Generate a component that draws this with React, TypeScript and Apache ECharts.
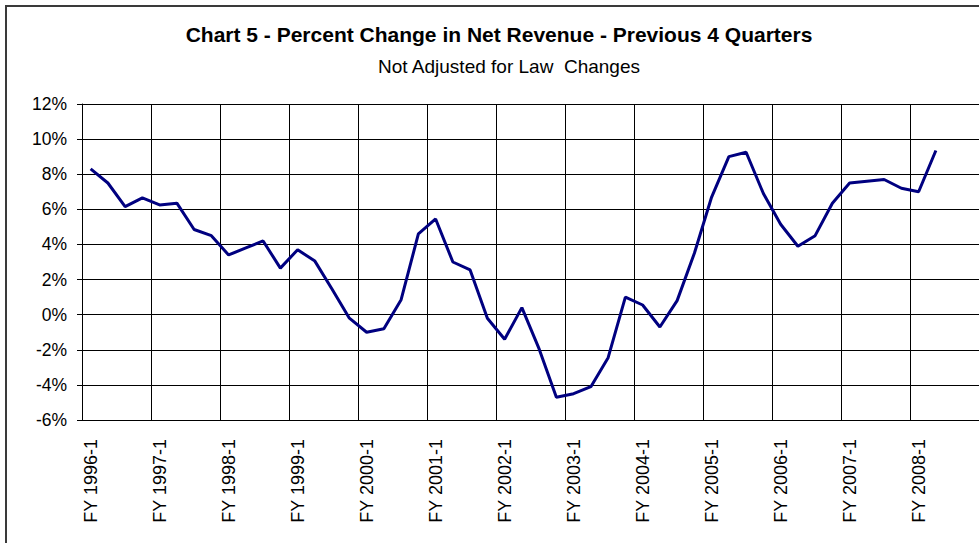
import React, { useEffect, useRef } from "react";
import * as echarts from "echarts";

const TITLE = "Chart 5 - Percent Change in Net Revenue - Previous 4 Quarters";
const SUBTITLE = "Not Adjusted for Law  Changes";

const YEARS = [1996, 1997, 1998, 1999, 2000, 2001, 2002, 2003, 2004, 2005, 2006, 2007, 2008];
const QUARTERS = [1, 2, 3, 4];
const CATEGORIES: string[] = YEARS.flatMap((y) => QUARTERS.map((q) => `FY ${y}-${q}`));

// Percent change in net revenue, previous 4 quarters (FY 1996-1 .. FY 2008-2)
const VALUES: number[] = [
  8.3, 7.5, 6.15, 6.65, 6.25, 6.35, 4.85, 4.5,
  3.4, 3.8, 4.2, 2.65, 3.7, 3.05, 1.45, -0.2,
  -1.0, -0.8, 0.85, 4.6, 5.45, 3.0, 2.55, -0.2,
  -1.4, 0.4, -1.95, -4.7, -4.5, -4.1, -2.45, 1.0,
  0.55, -0.7, 0.8, 3.5, 6.7, 9.0, 9.25, 6.9,
  5.15, 3.9, 4.5, 6.35, 7.5, 7.6, 7.7, 7.2,
  7.0, 9.35,
];

const Y_MIN = -6;
const Y_MAX = 12;
const Y_STEP = 2;

const FONT = "'Liberation Sans', Arial, sans-serif";

export default function App() {
  const ref = useRef<HTMLDivElement>(null);

  useEffect(() => {
    if (!ref.current) return;
    const chart = echarts.init(ref.current, undefined, { renderer: "svg" });
    chart.setOption({
      animation: false,
      backgroundColor: "#ffffff",
      textStyle: { fontFamily: FONT, color: "#000" },
      graphic: [
        {
          type: "rect",
          shape: { x: 6, y: 6, width: 1100, height: 700 },
          style: { fill: "none", stroke: "#3a3a3a", lineWidth: 2 },
          silent: true,
        },
        {
          type: "text",
          x: 499,
          y: 34,
          style: {
            text: TITLE,
            fontFamily: FONT,
            fontSize: 21,
            fontWeight: "bold",
            fill: "#000",
            textAlign: "center",
            textVerticalAlign: "middle",
          },
        },
        {
          type: "text",
          x: 509,
          y: 66,
          style: {
            text: SUBTITLE,
            fontFamily: FONT,
            fontSize: 19,
            fill: "#000",
            textAlign: "center",
            textVerticalAlign: "middle",
          },
        },
      ],
      grid: { left: 82, top: 104, right: -2, bottom: 123, containLabel: false },
      xAxis: {
        type: "category",
        data: CATEGORIES,
        boundaryGap: true,
        axisLine: { show: true, lineStyle: { color: "#000", width: 1 } },
        axisTick: { show: true, interval: 3, length: 5, inside: false, lineStyle: { color: "#000" } },
        splitLine: { show: true, interval: 3, lineStyle: { color: "#000", width: 1 } },
        axisLabel: {
          interval: 3,
          rotate: 90,
          margin: 19,
          color: "#000",
          fontFamily: FONT,
          fontSize: 18,
        },
      },
      yAxis: {
        type: "value",
        min: Y_MIN,
        max: Y_MAX,
        interval: Y_STEP,
        axisLine: { show: true, lineStyle: { color: "#000", width: 1 } },
        axisTick: { show: true, length: 5, lineStyle: { color: "#000" } },
        splitLine: { show: true, lineStyle: { color: "#000", width: 1 } },
        axisLabel: {
          formatter: "{value}%",
          margin: 15,
          color: "#000",
          fontFamily: FONT,
          fontSize: 17.5,
        },
      },
      series: [
        {
          type: "line",
          data: VALUES,
          showSymbol: false,
          symbol: "none",
          lineStyle: { color: "#000080", width: 3 },
          itemStyle: { color: "#000080" },
        },
      ],
    });
    return () => chart.dispose();
  }, []);

  return (
    <div
      ref={ref}
      style={{ position: "fixed", left: 0, top: 0, width: 979, height: 543, background: "#fff" }}
    />
  );
}
